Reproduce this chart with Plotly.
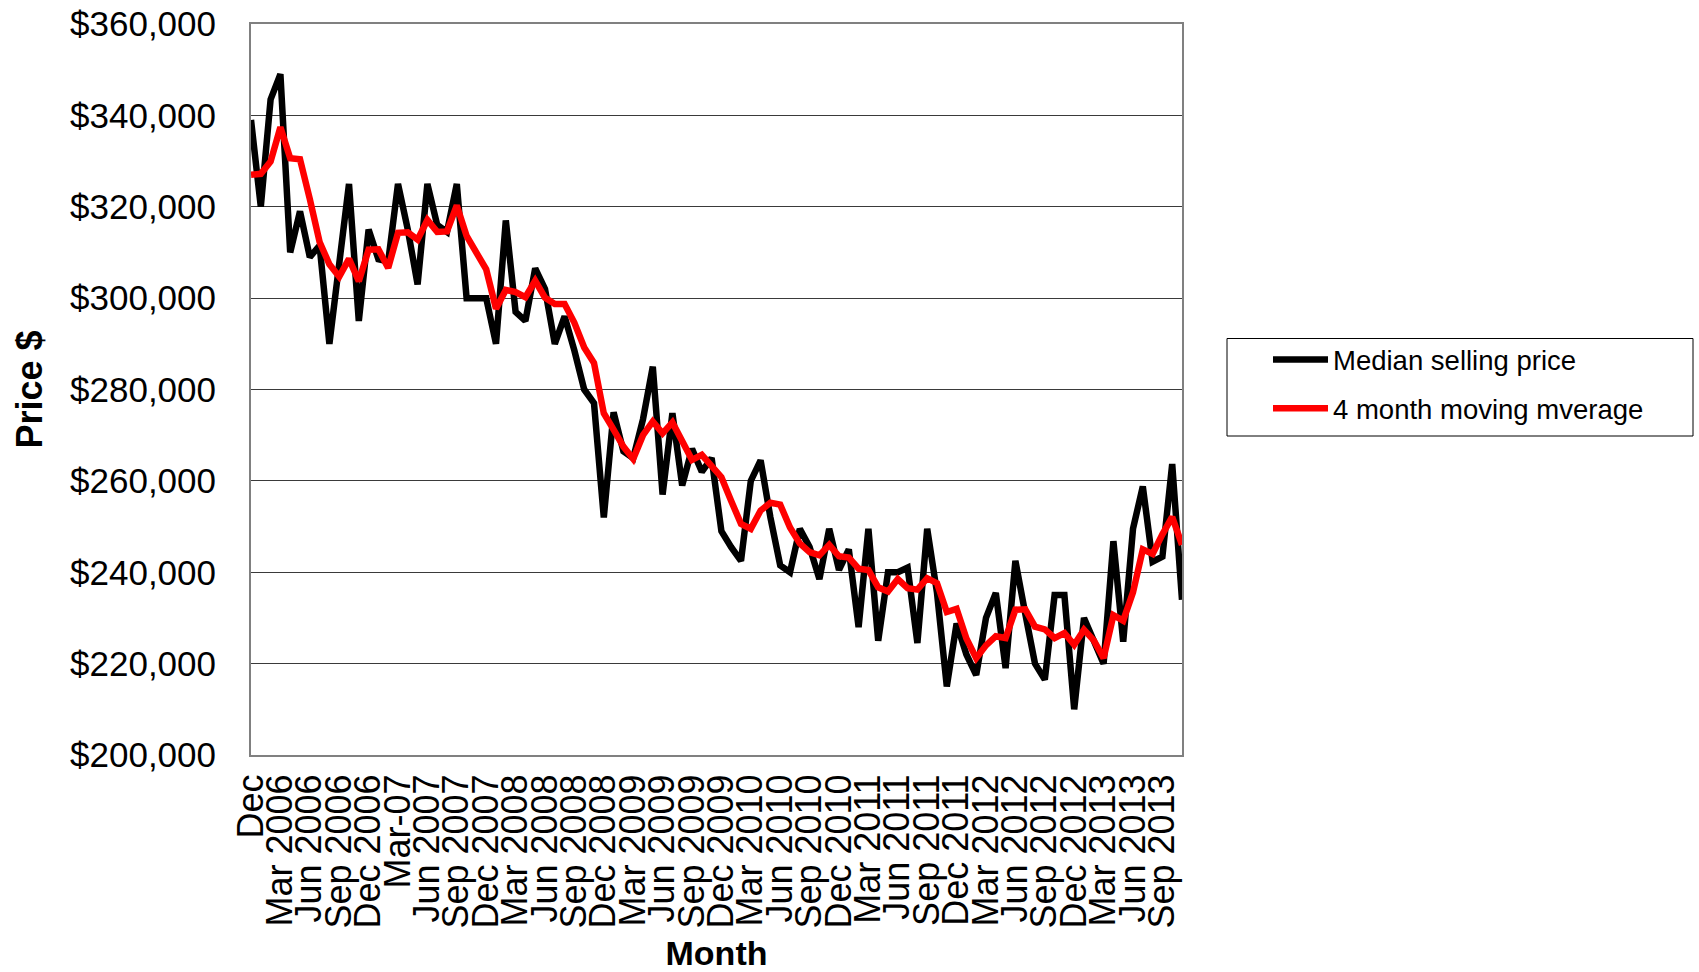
import plotly.graph_objects as go

months = [
    "Dec 2005", "Jan 2006", "Feb 2006", "Mar 2006", "Apr 2006", "May 2006", "Jun 2006", "Jul 2006",
    "Aug 2006", "Sep 2006", "Oct 2006", "Nov 2006", "Dec 2006", "Jan 2007", "Feb 2007", "Mar 2007",
    "Apr 2007", "May 2007", "Jun 2007", "Jul 2007", "Aug 2007", "Sep 2007", "Oct 2007", "Nov 2007",
    "Dec 2007", "Jan 2008", "Feb 2008", "Mar 2008", "Apr 2008", "May 2008", "Jun 2008", "Jul 2008",
    "Aug 2008", "Sep 2008", "Oct 2008", "Nov 2008", "Dec 2008", "Jan 2009", "Feb 2009", "Mar 2009",
    "Apr 2009", "May 2009", "Jun 2009", "Jul 2009", "Aug 2009", "Sep 2009", "Oct 2009", "Nov 2009",
    "Dec 2009", "Jan 2010", "Feb 2010", "Mar 2010", "Apr 2010", "May 2010", "Jun 2010", "Jul 2010",
    "Aug 2010", "Sep 2010", "Oct 2010", "Nov 2010", "Dec 2010", "Jan 2011", "Feb 2011", "Mar 2011",
    "Apr 2011", "May 2011", "Jun 2011", "Jul 2011", "Aug 2011", "Sep 2011", "Oct 2011", "Nov 2011",
    "Dec 2011", "Jan 2012", "Feb 2012", "Mar 2012", "Apr 2012", "May 2012", "Jun 2012", "Jul 2012",
    "Aug 2012", "Sep 2012", "Oct 2012", "Nov 2012", "Dec 2012", "Jan 2013", "Feb 2013", "Mar 2013",
    "Apr 2013", "May 2013", "Jun 2013", "Jul 2013", "Aug 2013", "Sep 2013", "Oct 2013", "Nov 2013",
]

median_price = [
    339000, 320000, 343500, 349000, 310000, 319000, 309000, 311500,
    290000, 308000, 325000, 295000, 315000, 308500, 308000, 325000,
    315000, 303000, 325000, 316000, 314500, 325000, 300000, 300000,
    300000, 290000, 317000, 297000, 295000, 306500, 302000, 290000,
    296000, 288500, 280000, 277000, 252000, 275000, 266500, 265000,
    273500, 285000, 257000, 274800, 259000, 267000, 262000, 265000,
    249000, 245500, 242500, 260000, 264500, 252000, 241500, 240000,
    249500, 245500, 238500, 249500, 240500, 245000, 228000, 249500,
    225000, 240000, 240000, 241000, 224500, 249500, 235500, 215000,
    228800, 222000, 217500, 230000, 235500, 219000, 242500, 231000,
    220000, 216500, 235000, 235000, 210000, 230000, 225000, 220000,
    246800, 224800, 249500, 258800, 242300, 243400, 263700, 234000,
]

moving_average = [
    327000, 327200, 329900, 337400, 330600, 330400, 321700, 312300,
    307400, 304700, 308600, 303700, 310600, 310700, 306600, 314300,
    314400, 312800, 317100, 314500, 314600, 320300, 313600, 309900,
    306300, 297700, 301800, 301300, 300200, 303800, 300100, 298700,
    298700, 294600, 289200, 285800, 274800, 271200, 267500, 264800,
    270000, 273000, 270400, 272800, 268500, 264600, 265700, 263400,
    260800, 255600, 250600, 249500, 253500, 255200, 254800, 249800,
    246300, 244400, 243700, 246000, 243500, 243200, 240800, 240500,
    236700, 235800, 238500, 236500, 236200, 238700, 237600, 231300,
    232000, 225500, 221200, 224000, 226000, 225600, 231800, 231900,
    228100, 227500, 225600, 226700, 224100, 227400, 225100, 221200,
    230600, 229400, 235600, 245000, 244000, 248300, 252100, 246000,
]

tick_months = [
    "Dec 2005", "Mar 2006", "Jun 2006", "Sep 2006", "Dec 2006", "Mar 2007", "Jun 2007", "Sep 2007",
    "Dec 2007", "Mar 2008", "Jun 2008", "Sep 2008", "Dec 2008", "Mar 2009", "Jun 2009", "Sep 2009",
    "Dec 2009", "Mar 2010", "Jun 2010", "Sep 2010", "Dec 2010", "Mar 2011", "Jun 2011", "Sep 2011",
    "Dec 2011", "Mar 2012", "Jun 2012", "Sep 2012", "Dec 2012", "Mar 2013", "Jun 2013", "Sep 2013",
]
tick_labels = [
    "Dec", "Mar 2006", "Jun 2006", "Sep 2006", "Dec 2006", "Mar-07", "Jun 2007", "Sep 2007",
    "Dec 2007", "Mar 2008", "Jun 2008", "Sep 2008", "Dec 2008", "Mar 2009", "Jun 2009", "Sep 2009",
    "Dec 2009", "Mar 2010", "Jun 2010", "Sep 2010", "Dec 2010", "Mar 2011", "Jun 2011", "Sep 2011",
    "Dec 2011", "Mar 2012", "Jun 2012", "Sep 2012", "Dec 2012", "Mar 2013", "Jun 2013", "Sep 2013",
]
major_tick_positions = [0, 12, 24, 36, 48, 60, 72, 84]

FONT = "Liberation Sans, Arial, sans-serif"
W, H = 1699, 972
L, R, T, B = 251, 1182, 24, 755


def px_to_paper_x(px):
    return (px - L) / (R - L)


def px_to_paper_y(py):
    return (B - py) / (B - T)


fig = go.Figure()
fig.add_trace(go.Scatter(
    x=months, y=median_price, mode="lines", name="Median selling price",
    line=dict(color="#000000", width=6.5), legendgroup="a",
))
fig.add_trace(go.Scatter(
    x=months, y=moving_average, mode="lines", name="4 month moving mverage",
    line=dict(color="#FF0000", width=6.5), legendgroup="b",
))

# legend frame
fig.add_shape(
    type="rect", xref="paper", yref="paper",
    x0=px_to_paper_x(1227), x1=px_to_paper_x(1693),
    y0=px_to_paper_y(436), y1=px_to_paper_y(338.5),
    line=dict(color="#000000", width=1), fillcolor="rgba(0,0,0,0)", layer="above",
)

fig.update_layout(
    width=W, height=H,
    margin=dict(l=L, r=W - R, t=T, b=H - B, pad=0, autoexpand=False),
    paper_bgcolor="white", plot_bgcolor="white",
    font=dict(family=FONT, color="#000000"),
    showlegend=True,
    legend=dict(
        x=px_to_paper_x(1227), y=px_to_paper_y(335), xanchor="left", yanchor="top",
        borderwidth=0, bgcolor="rgba(0,0,0,0)",
        font=dict(size=27.5, family=FONT), traceorder="grouped", tracegroupgap=10,
        indentation=41, itemwidth=55,
    ),
    xaxis=dict(
        type="category", categoryorder="array", categoryarray=months,
        range=[0, len(months) - 1], automargin=False,
        tickmode="array", tickvals=tick_months, ticktext=tick_labels,
        tickangle=-90, tickfont=dict(size=36, family=FONT),
        ticks="", showgrid=False, zeroline=False,
        showline=True, linecolor="#808080", linewidth=2, mirror=True,
        ticklabelstandoff=3,
        title=dict(text="<b>Month</b>", font=dict(size=34, family=FONT), standoff=38),
    ),
    xaxis2=dict(
        overlaying="x", anchor="y", side="bottom", range=[0, len(months) - 1],
        tickmode="array", tickvals=major_tick_positions, ticks="outside", ticklen=11,
        tickcolor="#808080", tickwidth=2, showticklabels=False, automargin=False,
        showgrid=False, zeroline=False, showline=False,
    ),
    yaxis=dict(
        range=[200000, 360000], dtick=20000, tickformat="$,.0f", automargin=False,
        tickfont=dict(size=35, family=FONT), ticklabeloverflow="allow",
        showgrid=True, gridcolor="#3a3a3a", gridwidth=1,
        showline=True, linecolor="#808080", linewidth=2, mirror=True,
        zeroline=False, ticks="", ticklabelstandoff=26,
        title=dict(text="<b>Price $</b>", font=dict(size=36, family=FONT), standoff=16),
    ),
)

fig.write_html(
    "out.html",
    config={"displayModeBar": False},
    post_script="document.body.style.margin='0px';",
)
